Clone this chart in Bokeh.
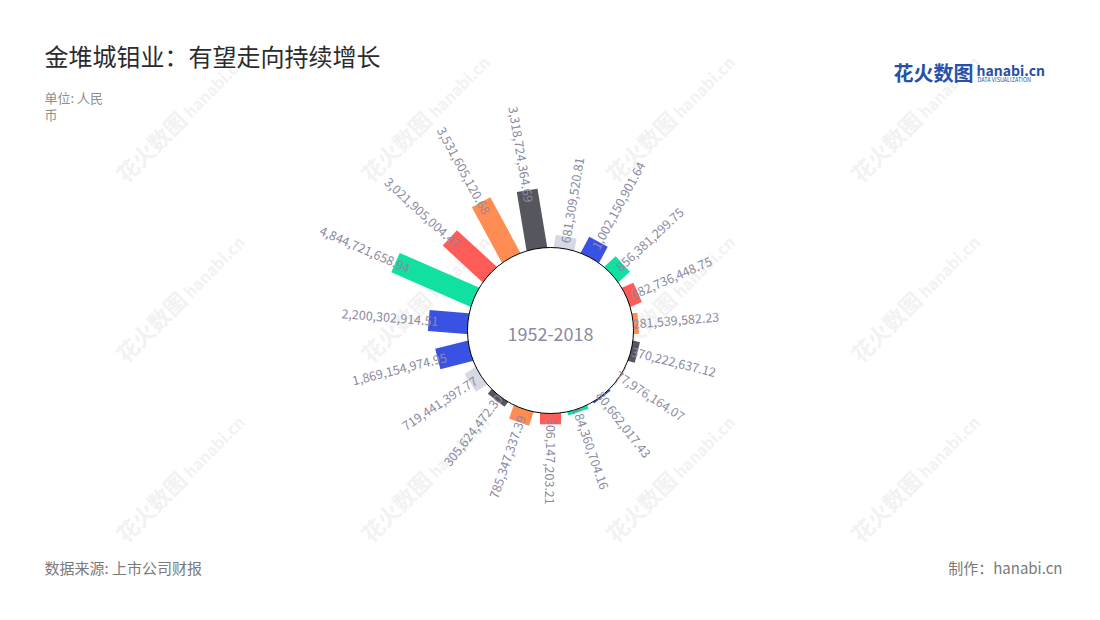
import math
from bokeh.plotting import figure
from bokeh.models import Range1d, ColumnDataSource
from bokeh.core.properties import value
from bokeh.embed import file_html
from bokeh.resources import INLINE

# ---------------- data ----------------
categories = ["P01", "P02", "P03", "P04", "P05", "P06", "P07", "P08", "P09", "P10",
              "P11", "P12", "P13", "P14", "P15", "P16", "P17", "P18", "P19"]
values = [681309520.81, 1002150901.64, 856381299.75, 682736448.75, 281539582.23,
          370222637.12, 77976164.07, 80662017.43, 184360704.16, 606147203.21,
          785347337.39, 305624472.30, 719441397.77, 1869154974.95, 2200302914.51,
          4844721658.94, 3021905004.47, 3531605120.68, 3318724364.69]
bar_colors = ["#d5d9e4", "#3a52e4", "#10e0a0", "#ff5c57", "#ff8c52", "#56565f",
              "#d5d9e4", "#3a52e4", "#10e0a0", "#ff5c57", "#ff8c52", "#56565f",
              "#d5d9e4", "#3a52e4", "#3a52e4", "#10e0a0", "#ff5c57", "#ff8c52", "#56565f"]
center_text = "1952-2018"
title_text = "金堆城钼业：有望走向持续增长"
unit_lines = ["单位: 人民", "币"]
source_text = "数据来源: 上市公司财报"
credit_text = "制作：hanabi.cn"

FONT = "Noto Sans CJK SC"
LABEL_COLOR = "#8a8aa2"

W, H = 1090, 612

# data x = page x, data y = -page y
p = figure(width=W, height=H, x_range=Range1d(0, W), y_range=Range1d(-H, 0),
           output_backend="svg", toolbar_location=None,
           x_axis_location=None, y_axis_location=None,
           min_border=0, min_border_top=0, min_border_left=0,
           min_border_right=0, min_border_bottom=0)
p.grid.visible = False
p.outline_line_color = None
p.background_fill_color = "white"
p.border_fill_color = "white"


def txt(x, y, s, size, color, align="left", baseline="middle", angle=0.0, style="normal"):
    p.text(x=[x], y=[-y], text=[s], angle=angle, text_align=align, text_baseline=baseline,
           text_font=value(FONT), text_font_size=size, text_color=color,
           text_font_style=style)


# ---------------- watermarks ----------------
for wx in [130, 375, 620, 865]:
    for wy in [188, 368, 548]:
        txt(wx, wy, "花火数图", "22px", "#f2f2f2", baseline="bottom",
            angle=math.pi / 4, style="bold")
        txt(wx + 64, wy - 66, "hanabi.cn", "16px", "#f2f2f2", baseline="bottom",
            angle=math.pi / 4, style="bold")

# ---------------- radial bars ----------------
cx, cy, r0 = 550, -330, 83
px_per_value = 89 / 5e9
n = len(values)
step = 360 / n

bx, by, bw, ba = [], [], [], []
rx, ry, ra, rt = [], [], [], []
lx, ly, la, lt = [], [], [], []
for i, v in enumerate(values):
    theta = (i + 0.5) * step
    tm = math.radians(90 - theta)
    length = v * px_per_value
    r_start = r0 - 12
    r_end = r0 + length
    mid = (r_start + r_end) / 2
    bx.append(cx + mid * math.cos(tm))
    by.append(cy + mid * math.sin(tm))
    bw.append(r_end - r_start)
    ba.append(tm)
    r_lab = r0 - 5 + 0.88 * length
    tx = cx + r_lab * math.cos(tm)
    ty = cy + r_lab * math.sin(tm)
    s = f"{v:,.2f}"
    if theta <= 180 + 1e-6:
        rx.append(tx); ry.append(ty); ra.append(tm); rt.append(s)
    else:
        lx.append(tx); ly.append(ty); la.append(tm + math.pi); lt.append(s)

bars = ColumnDataSource(dict(x=bx, y=by, w=bw, a=ba, c=bar_colors, cat=categories))
p.rect(x="x", y="y", width="w", height=21, angle="a", fill_color="c",
       line_color=None, source=bars)

p.circle(x=[cx], y=[cy], radius=r0, fill_color="white", line_color="#000000", line_width=1)

p.text(x=rx, y=ry, text=rt, angle=ra, text_align="left", text_baseline="middle",
       text_font=value(FONT), text_font_size="12.5px", text_color=LABEL_COLOR)
p.text(x=lx, y=ly, text=lt, angle=la, text_align="right", text_baseline="middle",
       text_font=value(FONT), text_font_size="12.5px", text_color=LABEL_COLOR)

txt(cx, 333, center_text, "18px", LABEL_COLOR, align="center")

# ---------------- titles & notes ----------------
txt(44, 55, title_text, "24px", "#2b2b2b")
for k, line in enumerate(unit_lines):
    txt(44, 97 + 17 * k, line, "13px", "#8f8f8f")
txt(44, 567, source_text, "15px", "#7a7a7a")
txt(1062, 567, credit_text, "15px", "#7a7a7a", align="right")

LOGO = "#2850a6"
txt(893, 72, "花火数图", "20px", LOGO, style="bold")
txt(976, 69, "hanabi.cn", "14px", LOGO, style="bold")
txt(977, 79, "DATA VISUALIZATION", "5.5px", LOGO)

open("out.html", "w").write(file_html(p, INLINE))
